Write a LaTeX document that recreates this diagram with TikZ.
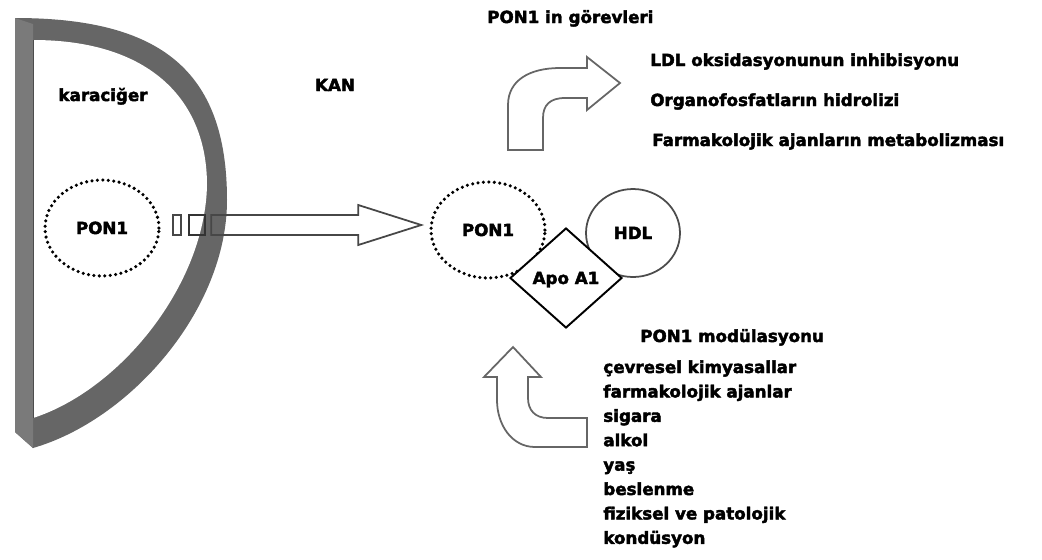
\documentclass[tikz,border=0pt]{standalone}
\usepackage{fontspec}
\setmainfont{DejaVu Sans}
\newfontfamily\heavyfont{DejaVu Sans Bold}[FakeBold=2.5]
\usetikzlibrary{shapes.geometric}
\usetikzlibrary{calc}

\begin{document}
\begin{tikzpicture}[x=0.02cm, y=-0.02cm,
		txt/.style={font=\heavyfont\fontsize{9.5}{11}\selectfont, inner sep=0pt, text height=1.5ex, text depth=.25ex},
		dots/.style={ellipse, draw, line width=2pt, line cap=round, dash pattern=on 0pt off 3.1pt, minimum width=2.28cm, minimum height=1.92cm, txt},
		hollow/.style={draw=black!60, line width=1pt, line join=miter}]
	\useasboundingbox (0, 0) rectangle (1042, 559);
	\fill[white] (0, 0) rectangle (1042, 559);

	% karaciger
	\fill[black!60] (15, 18) .. controls (160, 18) and (227, 70) .. (227, 200)
		.. controls (227, 310) and (130, 420) .. (33, 448) -- (15, 432) -- cycle;
	\fill[white] (33, 40) .. controls (150, 40) and (207, 100) .. (207, 185)
		.. controls (205, 285) and (120, 390) .. (33, 418) -- cycle;
	\fill[black!52] (15, 18) -- (33, 24) -- (33, 448) -- (15, 432) -- cycle;
	\draw[black!70, line width=0.4pt] (33, 40) -- (33, 418);
	\node[txt] (liver) at (103, 95) {karaciğer};
	\node[dots] (ponliv) at (102, 228) {PON1};

	\node[txt] (kan) at (335, 85) {KAN};

	% kan
	\node[dots] (ponkan) at (488, 230) {PON1};
	\node[ellipse, draw=black!70, line width=1pt, minimum width=1.88cm, minimum height=1.76cm, txt] (hdl) at (633, 233) {HDL};
	\node[diamond, draw, fill=white, line width=1.1pt, minimum width=2.24cm, minimum height=2cm, inner sep=0pt, txt] (apo) at (566, 278) {Apo A1};

	% karaciger -> kan
	\coordinate (tip) at ($(ponkan.west)+(-8, -5)$);
	\draw[hollow, draw=black!72] ($(tip)+(-210, -10)$) -- ($(tip)+(-63, -10)$) -- ($(tip)+(-63, -20)$) -- (tip)
		-- ($(tip)+(-63, 20)$) -- ($(tip)+(-63, 10)$) -- ($(tip)+(-210, 10)$) -- cycle;
	\draw[hollow, draw=black!80] ($(tip)+(-232, -10)$) rectangle ($(tip)+(-216, 10)$);
	\draw[hollow, draw=black!72] ($(tip)+(-248, -10)$) rectangle ($(tip)+(-240, 10)$);

	% gorevler
	\draw[hollow] (508, 150) -- (508, 105) .. controls (508, 80) and (530, 68) .. (560, 68) -- (587, 68)
		-- (587, 57) -- (620, 83) -- (587, 110) -- (587, 98) -- (565, 98)
		.. controls (550, 98) and (543, 105) .. (543, 118) -- (543, 150) -- cycle;
	\node[txt, anchor=west] (gorev) at (487, 17) {PON1 in görevleri};
	\node[txt, anchor=west] (g1) at (650, 60) {LDL oksidasyonunun inhibisyonu};
	\node[txt, anchor=west] (g2) at (650, 100) {Organofosfatların hidrolizi};
	\node[txt, anchor=west] (g3) at (652, 140) {Farmakolojik ajanların metabolizması};

	% modulasyon
	\draw[hollow] (513, 347) -- (541, 377) -- (528, 377) -- (528, 398)
		.. controls (528, 410) and (535, 418) .. (548, 418) -- (587, 418) -- (587, 447) -- (535, 447)
		.. controls (512, 447) and (497, 425) .. (497, 400) -- (497, 377) -- (484, 377) -- cycle;
	\node[txt, anchor=west] (modul) at (640, 336) {PON1 modülasyonu};
	\foreach \t [count=\i from 0] in {çevresel kimyasallar, farmakolojik ajanlar, sigara, alkol, yaş, beslenme, fiziksel ve patolojik, kondüsyon}
		\node[txt, anchor=west] (m\i) at (603, 367+24.4*\i) {\t};
\end{tikzpicture}
\end{document}
